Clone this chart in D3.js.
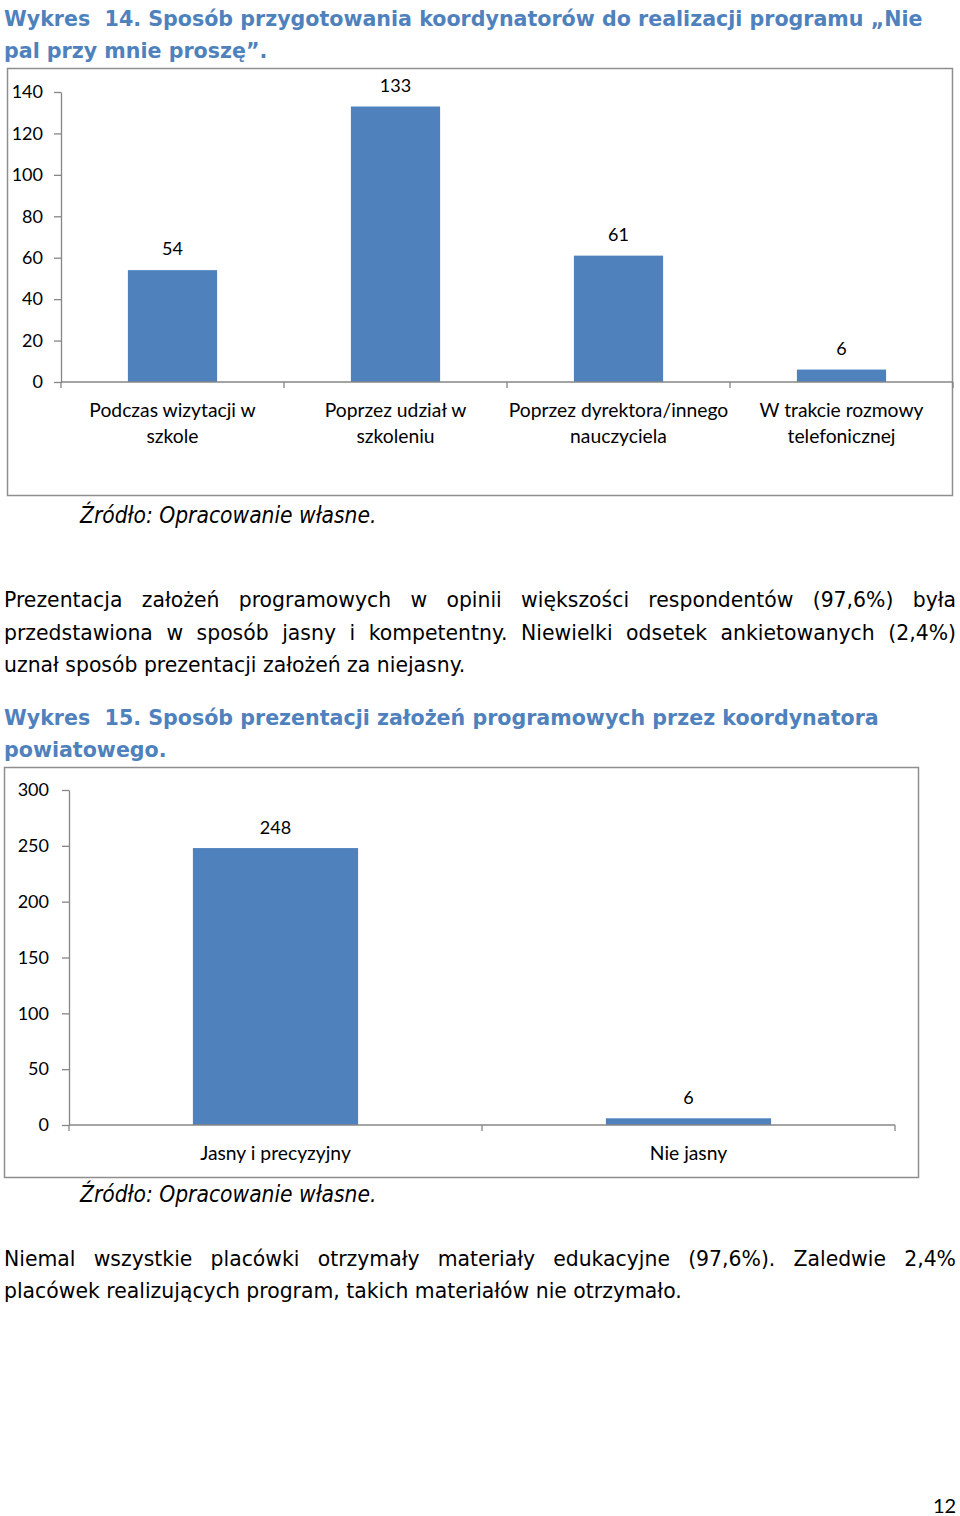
<!DOCTYPE html>
<html><head><meta charset="utf-8">
<script src="https://cdn.jsdelivr.net/npm/d3@7"></script>
<style>
body{margin:0;background:#fff;width:960px;height:1516px;position:relative;overflow:hidden}
.t{position:absolute;font-family:"DejaVu Sans",sans-serif;white-space:pre;line-height:32px;color:#000}
.title{color:#4F81BD;font-weight:bold;font-size:20.6px}
.body{font-size:20.4px}
.j{text-align:justify;text-align-last:justify;width:952px;white-space:normal}
.src{font-family:"DejaVu Sans Condensed","DejaVu Sans",sans-serif;font-style:italic;font-size:22.6px}
.pg{font-family:Lato,sans-serif;font-size:20px}
svg{position:absolute;left:0;top:0}
</style></head><body>
<svg id="chart" width="960" height="1516"></svg>
<script>
// ---- data ----
const cats1 = [["Podczas wizytacji w","szkole"],["Poprzez udział w","szkoleniu"],["Poprzez dyrektora/innego","nauczyciela"],["W trakcie rozmowy","telefonicznej"]];
const vals1 = [54,133,61,6];
const ticks1 = [0,20,40,60,80,100,120,140];
const cats2 = ["Jasny i precyzyjny","Nie jasny"];
const vals2 = [248,6];
const ticks2 = [0,50,100,150,200,250,300];

const texts = [
  {cls:"title", x:4, y:19, s:"Wykres  14. Sposób przygotowania koordynatorów do realizacji programu „Nie"},
  {cls:"title", x:4, y:51, s:"pal przy mnie proszę”."},
  {cls:"src", x:80, y:515, s:"Źródło: Opracowanie własne."},
  {cls:"body j", x:4, y:600, s:"Prezentacja założeń programowych w opinii większości respondentów (97,6%) była"},
  {cls:"body j", x:4, y:633, s:"przedstawiona w sposób jasny i kompetentny. Niewielki odsetek ankietowanych (2,4%)"},
  {cls:"body", x:4, y:665, s:"uznał sposób prezentacji założeń za niejasny."},
  {cls:"title", x:4, y:718, s:"Wykres  15. Sposób prezentacji założeń programowych przez koordynatora"},
  {cls:"title", x:4, y:750, s:"powiatowego."},
  {cls:"src", x:80, y:1194, s:"Źródło: Opracowanie własne."},
  {cls:"body j", x:4, y:1259, s:"Niemal wszystkie placówki otrzymały materiały edukacyjne (97,6%). Zaledwie 2,4%"},
  {cls:"body", x:4, y:1291, s:"placówek realizujących program, takich materiałów nie otrzymało."},
  {cls:"pg", x:933, y:1505, s:"12"}
];
d3.select("body").selectAll("div.t").data(texts).join("div")
  .attr("class", d => "t " + d.cls)
  .style("left", d => d.x + "px")
  .style("top", d => (d.y - 16) + "px")
  .text(d => d.s);

const svg = d3.select("#chart");
const blue = "#4F81BD", axisCol = "#868686", frameCol = "#8e8e8e";
const font = "Lato, 'Open Sans', sans-serif";

function drawChart(cfg){
  const g = svg.append("g");
  g.append("rect").attr("x",cfg.frame[0]).attr("y",cfg.frame[1]).attr("width",cfg.frame[2]).attr("height",cfg.frame[3])
    .attr("fill","none").attr("stroke",frameCol).attr("stroke-width",1.5);
  const y = d3.scaleLinear().domain([0,cfg.max]).range([cfg.y0,cfg.y1]);
  const x = d3.scaleBand().domain(cfg.cats.map((c,i)=>i)).range([cfg.x0,cfg.x1]).paddingInner(0.6).paddingOuter(0.3);
  // y axis
  const ya = g.append("g").attr("transform",`translate(${cfg.x0},0)`)
    .call(d3.axisLeft(y).tickValues(cfg.ticks).tickSize(7).tickPadding(cfg.tp).tickSizeOuter(0));
  ya.select(".domain").attr("stroke",axisCol).attr("stroke-width",1.3);
  ya.selectAll(".tick line").attr("stroke",axisCol).attr("stroke-width",1.3);
  ya.selectAll(".tick text").attr("font-family",font).attr("font-size",cfg.fs).attr("fill","#000");
  // bars
  g.selectAll("rect.bar").data(cfg.vals).join("rect").attr("class","bar")
    .attr("x",(d,i)=>x(i)).attr("width",x.bandwidth())
    .attr("y",d=>y(d)).attr("height",d=>y(0)-y(d)).attr("fill",blue);
  // value labels
  g.selectAll("text.val").data(cfg.vals).join("text").attr("class","val")
    .attr("x",(d,i)=>x(i)+x.bandwidth()/2).attr("y",d=>y(d)-cfg.lblOff)
    .attr("text-anchor","middle").attr("dominant-baseline","central")
    .attr("font-family",font).attr("font-size",cfg.fs).text(d=>d);
  // x axis line and boundary ticks
  g.append("line").attr("x1",cfg.x0).attr("x2",cfg.x1).attr("y1",y(0)).attr("y2",y(0))
    .attr("stroke",axisCol).attr("stroke-width",1.3);
  const bounds = d3.range(cfg.cats.length+1).map(i=>cfg.x0 + i*x.step());
  g.selectAll("line.xt").data(bounds).join("line").attr("class","xt")
    .attr("x1",d=>d).attr("x2",d=>d).attr("y1",y(0)).attr("y2",y(0)+6)
    .attr("stroke",axisCol).attr("stroke-width",1.3);
  // category labels
  const cl = g.selectAll("text.cat").data(cfg.cats).join("text").attr("class","cat")
    .attr("x",(d,i)=>x(i)+x.bandwidth()/2).attr("text-anchor","middle")
    .attr("font-family",font).attr("font-size",cfg.cfs);
  cl.each(function(d){
    const lines = Array.isArray(d)?d:[d];
    d3.select(this).selectAll("tspan").data(lines).join("tspan")
      .attr("x",d3.select(this).attr("x")).attr("y",(l,k)=>cfg.catY + k*26)
      .attr("dominant-baseline","central").text(l=>l);
  });
}

drawChart({frame:[7.5,68.5,945,427], cats:cats1, vals:vals1, ticks:ticks1, max:140,
  y0:382, y1:92, x0:61, x1:953, fs:18, cfs:19.3, tp:11, lblOff:22, catY:409});
drawChart({frame:[4.5,767.5,914,410], cats:cats2, vals:vals2, ticks:ticks2, max:300,
  y0:1125, y1:790, x0:69, x1:895, fs:18, cfs:19.3, tp:13, lblOff:21, catY:1152});
</script>
</body></html>
